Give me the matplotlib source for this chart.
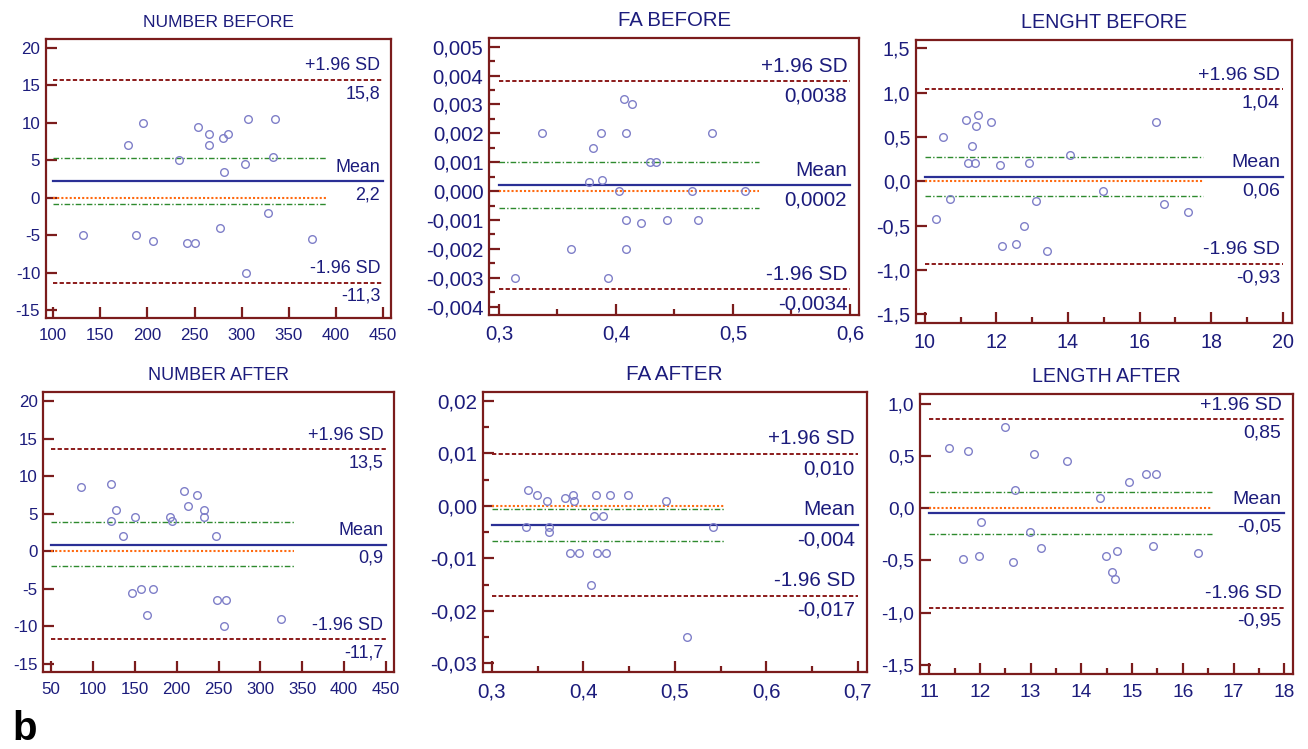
import matplotlib
matplotlib.use("Agg")
import matplotlib.pyplot as plt
from matplotlib.ticker import MultipleLocator, FuncFormatter

plt.rcParams["font.family"] = ["Liberation Sans", "DejaVu Sans"]

# --- veriler ---
titles = ["NUMBER BEFORE", "FA BEFORE", "LENGHT BEFORE",
          "NUMBER AFTER", "FA AFTER", "LENGTH AFTER"]

nb_x = [132, 179, 195, 188, 206, 233, 242, 250, 254, 265, 265, 277, 280, 286,
        281, 304, 305, 307, 328, 333, 335, 375]
nb_y = [-5, 7, 10, -5, -5.75, 5, -6, -6, 9.5, 8.5, 7, -4, 8, 8.5,
        3.5, 4.5, -10, 10.5, -2, 5.5, 10.5, -5.5]

fb_x = [0.314, 0.337, 0.362, 0.377, 0.380, 0.387, 0.388, 0.393, 0.403, 0.407, 0.4085,
        0.409, 0.409, 0.414, 0.421, 0.429, 0.434, 0.444, 0.465, 0.470, 0.482, 0.510]
fb_y = [-0.003, 0.002, -0.002, 0.0003, 0.0015, 0.002, 0.0004, -0.003, 0.0, 0.0032, -0.001,
        0.002, -0.002, 0.003, -0.0011, 0.001, 0.001, -0.001, 0.0, -0.001, 0.002, 0.0]

lb_x = [10.30, 10.50, 10.71, 11.15, 11.21, 11.32, 11.41, 11.42, 11.47, 11.85, 12.10,
        12.15, 12.54, 12.76, 12.92, 13.10, 13.42, 14.05, 14.97, 16.45, 16.69, 17.36]
lb_y = [-0.42, 0.5, -0.2, 0.69, 0.21, 0.4, 0.21, 0.63, 0.75, 0.67, 0.18,
        -0.73, -0.71, -0.5, 0.21, -0.22, -0.79, 0.3, -0.11, 0.67, -0.25, -0.34]

na_x = [86, 122, 122, 128, 136, 147, 150, 157, 165, 172, 192,
        194, 209, 213, 224, 233, 233, 247, 248, 259, 256, 325]
na_y = [8.5, 9, 4, 5.5, 2, -5.5, 4.5, -5, -8.5, -5, 4.5,
        4, 8, 6, 7.5, 5.5, 4.5, 2, -6.5, -6.5, -10, -9]

fa_x = [0.339, 0.3375, 0.349, 0.360, 0.363, 0.363, 0.380, 0.385, 0.389, 0.390, 0.395,
        0.408, 0.4115, 0.414, 0.415, 0.421, 0.425, 0.429, 0.449, 0.490, 0.513, 0.542]
fa_y = [0.003, -0.004, 0.002, 0.001, -0.004, -0.005, 0.0015, -0.009, 0.002, 0.001, -0.009,
        -0.015, -0.002, 0.002, -0.009, -0.002, -0.009, 0.002, 0.002, 0.001, -0.025, -0.004]

la_x = [11.39, 11.66, 11.77, 11.98, 12.03, 12.49, 12.65, 12.69, 12.99, 13.06, 13.21,
        13.72, 14.36, 14.48, 14.60, 14.66, 14.71, 14.94, 15.27, 15.42, 15.47, 16.29]
la_y = [0.58, -0.49, 0.55, -0.46, -0.13, 0.78, -0.51, 0.17, -0.23, 0.52, -0.38,
        0.45, 0.1, -0.46, -0.61, -0.68, -0.41, 0.25, 0.33, -0.36, 0.33, -0.43]

xs = [nb_x, fb_x, lb_x, na_x, fa_x, la_x]
ys = [nb_y, fb_y, lb_y, na_y, fa_y, la_y]

# ortalama, +1.96 SD, -1.96 SD ve ortalamanin guven araligi
means = [2.2, 0.0002, 0.05, 0.9, -0.0036, -0.05]
upper_sd = [15.75, 0.0038, 1.04, 13.55, 0.0099, 0.85]
lower_sd = [-11.35, -0.0034, -0.93, -11.7, -0.0171, -0.95]
ci_high = [5.25, 0.001, 0.28, 3.85, -0.0005, 0.16]
ci_low = [-0.85, -0.0006, -0.165, -1.92, -0.0066, -0.245]
mean_txt = ["2,2", "0,0002", "0,06", "0,9", "-0,004", "-0,05"]
upper_txt = ["15,8", "0,0038", "1,04", "13,5", "0,010", "0,85"]
lower_txt = ["-11,3", "-0,0034", "-0,93", "-11,7", "-0,017", "-0,95"]

# eksen ayarlari
x_range = [(100, 450), (0.3, 0.6), (10, 20), (50, 450), (0.3, 0.7), (11, 18)]
ci_end = [390, 0.522, 17.78, 340, 0.554, 16.58]
xlims = [(92, 458.5), (0.2915, 0.608), (9.75, 20.26), (40.8, 459.9), (0.290, 0.7098), (10.82, 18.165)]
ylims = [(-16.07, 21.2), (-0.00429, 0.00531), (-1.60, 1.594), (-16.1, 21.16), (-0.0317, 0.02166), (-1.586, 1.09)]
x_major = [50, 0.1, 2, 50, 0.1, 1]
x_minor = [None, 0.05, 1, None, 0.05, 0.5]
y_major = [5, 0.001, 0.5, 5, 0.01, 0.5]
y_minor = [None, 0.0005, None, None, 0.005, None]
x_dec = [0, 1, 0, 0, 1, 0]
y_dec = [0, 3, 1, 0, 2, 1]

# panellerin piksel konumlari: sol, ust, sag, alt
boxes = [(45.7, 39, 391, 318), (489, 37.7, 859.3, 315), (916, 40, 1292, 323.3),
         (43.3, 392.3, 394.3, 672.3), (482.7, 392.3, 866.7, 672.3), (920, 394.3, 1292.7, 674)]
# paneller farkli olceklerle birlestirilmis, yazi boyutlari da farkli
tick_size = [12.2, 14.7, 14.2, 12.2, 14.8, 13.8]
note_size = [12.9, 14.9, 14.0, 13.0, 14.9, 14.0]
title_size = [12.5, 14.7, 14.2, 13.0, 14.9, 14.1]

W, H = 1308, 749
frame = "#7b1c1c"
navy = "#1c1c7c"


def comma_fmt(dec):
    def f(v, pos):
        if abs(v) < 1e-12:
            v = 0.0
        return f"{v:.{dec}f}".replace(".", ",")
    return FuncFormatter(f)


fig = plt.figure(figsize=(W / 100, H / 100), dpi=100)

for i in range(6):
    l, t, r, b = boxes[i]
    ax = fig.add_axes([l / W, 1 - b / H, (r - l) / W, (b - t) / H])
    x0, x1 = x_range[i]

    ax.plot([x0, ci_end[i]], [0, 0], color="#ff6a10", lw=1.5, ls=(0, (1, 1)))
    ax.plot([x0, ci_end[i]], [ci_high[i]] * 2, color="#2e8a2e", lw=1, ls=(0, (4, 1.5, 1, 1.5)))
    ax.plot([x0, ci_end[i]], [ci_low[i]] * 2, color="#2e8a2e", lw=1, ls=(0, (4, 1.5, 1, 1.5)))
    ax.plot([x0, x1], [means[i]] * 2, color="#2a2f95", lw=1.6)
    ax.plot([x0, x1], [upper_sd[i]] * 2, color="#8b1a1a", lw=1.4, ls=(0, (2.2, 1.2)))
    ax.plot([x0, x1], [lower_sd[i]] * 2, color="#8b1a1a", lw=1.4, ls=(0, (2.2, 1.2)))
    ax.plot(xs[i], ys[i], "o", mfc="none", mec="#7f7fc8", mew=1, ms=5.5)

    # cizgilerin yanindaki yazilar
    for yv, top, bottom in [(upper_sd[i], "+1.96 SD", upper_txt[i]),
                            (means[i], "Mean", mean_txt[i]),
                            (lower_sd[i], "-1.96 SD", lower_txt[i])]:
        ax.annotate(top, (x1, yv), xytext=(-2, 4), textcoords="offset points",
                    ha="right", va="bottom", fontsize=note_size[i], color=navy)
        ax.annotate(bottom, (x1, yv), xytext=(-2, -3.8), textcoords="offset points",
                    ha="right", va="top", fontsize=note_size[i], color=navy)

    ax.set_xlim(xlims[i])
    ax.set_ylim(ylims[i])
    ax.xaxis.set_major_locator(MultipleLocator(x_major[i]))
    ax.yaxis.set_major_locator(MultipleLocator(y_major[i]))
    if x_minor[i]:
        ax.xaxis.set_minor_locator(MultipleLocator(x_minor[i]))
    if y_minor[i]:
        ax.yaxis.set_minor_locator(MultipleLocator(y_minor[i]))
    ax.xaxis.set_major_formatter(comma_fmt(x_dec[i]))
    ax.yaxis.set_major_formatter(comma_fmt(y_dec[i]))

    ax.tick_params(which="both", direction="in", color=frame, width=1.6,
                   labelcolor=navy, labelsize=tick_size[i])
    ax.tick_params(which="major", length=8)
    ax.tick_params(which="minor", length=4)
    ax.tick_params(axis="x", pad=7)
    ax.tick_params(axis="y", pad=4)
    for s in ax.spines.values():
        s.set_color(frame)
        s.set_linewidth(1.6)

    ax.set_title(titles[i], fontsize=title_size[i], color=navy, pad=8.5)

fig.text(12 / W, 1 - 740 / H, "b", fontsize=29, fontweight="bold", color="black",
         ha="left", va="baseline")

fig.savefig("out.png", dpi=100)
